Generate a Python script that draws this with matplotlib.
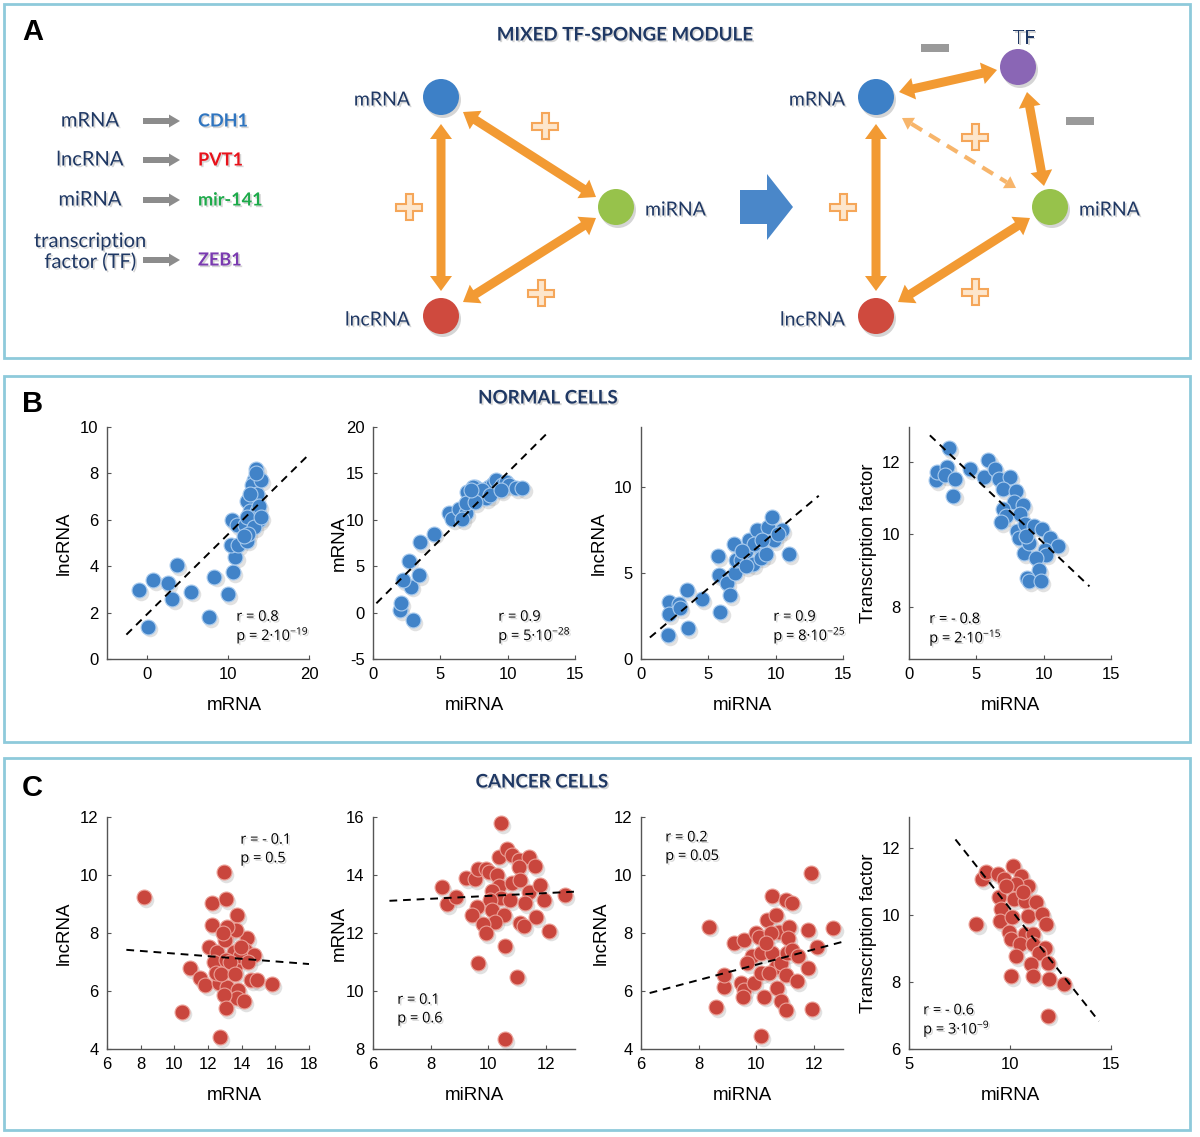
import numpy as np
import matplotlib
matplotlib.use("Agg")
import matplotlib.pyplot as plt
import matplotlib.patches as mpatches
import matplotlib.patheffects as pe

plt.rcParams['font.family'] = ['Liberation Sans', 'DejaVu Sans']
plt.rcParams['mathtext.default'] = 'regular'
plt.rcParams['axes.unicode_minus'] = False

# ---------------- data: normal cells (panel B) ----------------
b1_mrna = [-1.1, 0.75, 0.1, 2.5, 3.1, 3.7, 5.4, 7.6, 8.3, 10.0, 10.6, 10.9, 10.4, 11.2, 10.5, 11.1, 12.1, 13.5,
           13.2, 13.0, 13.2, 12.3, 12.75, 13.6, 13.8, 12.3, 13.2, 12.3, 13.6, 13.8, 12.75, 14.0, 13.4, 12.5, 14.0, 11.9]
b1_lnc = [2.98, 3.4, 1.4, 3.27, 2.58, 4.05, 2.9, 1.8, 3.55, 2.8, 3.74, 4.38, 4.9, 4.9, 6.0, 5.77, 5.77, 8.2,
          7.7, 7.5, 6.85, 6.8, 6.4, 6.4, 6.0, 6.1, 5.7, 5.1, 7.1, 6.6, 7.1, 7.7, 8.0, 5.4, 6.1, 5.3]

b2_mir = [1.97, 2.1, 2.96, 2.83, 2.2, 3.4, 2.7, 3.5, 4.5, 5.67, 5.9, 6.4, 6.9, 6.6, 7.0, 7.4, 7.6, 7.9, 8.4, 8.6,
          8.9, 9.1, 9.4, 9.6, 9.85, 10.1, 10.6, 11.1, 7.4, 8.1, 8.7, 9.5, 6.9, 7.6, 7.3]
b2_mrna = [0.29, 1.0, -0.8, 2.8, 3.5, 4.05, 5.6, 7.6, 8.5, 10.7, 10.1, 11.2, 10.7, 10.1, 13.0, 12.5, 13.5, 12.8,
           12.3, 13.5, 13.9, 14.3, 13.4, 13.7, 14.1, 13.7, 13.4, 13.4, 13.5, 13.2, 12.65, 13.2, 11.8, 11.9, 13.2]

b3_mir = [2.0, 2.1, 2.1, 2.8, 2.9, 3.5, 3.4, 4.5, 5.9, 5.7, 5.8, 6.4, 6.6, 6.9, 7.0, 7.05, 7.4, 7.8, 8.0, 8.3,
          8.6, 8.8, 8.9, 9.25, 9.4, 9.7, 9.9, 10.5, 11.0, 7.8, 8.4, 9.0, 7.5, 10.2]
b3_lnc = [1.4, 3.3, 2.6, 3.2, 2.95, 1.8, 4.0, 3.5, 2.75, 6.0, 4.9, 4.4, 3.7, 6.7, 5.0, 5.75, 5.75, 6.3, 6.9, 5.5,
          7.5, 6.5, 5.9, 6.1, 7.7, 8.25, 6.9, 7.5, 6.1, 5.4, 6.7, 6.9, 6.3, 7.3]

b4_mir = [2.0, 2.1, 2.8, 2.7, 3.0, 3.4, 3.3, 4.5, 5.9, 5.6, 6.35, 6.7, 7.5, 7.0, 7.95, 7.8, 8.45, 7.0, 7.2, 8.25,
          6.85, 8.0, 8.65, 9.3, 9.9, 8.15, 10.5, 11.1, 10.1, 10.2, 8.55, 9.4, 9.65, 8.75, 8.9, 9.8, 8.9, 8.7]
b4_tf = [11.49, 11.72, 11.86, 11.63, 12.39, 11.53, 11.07, 11.81, 12.05, 11.58, 11.81, 11.53, 11.58, 11.26, 11.2,
         10.9, 10.8, 10.7, 10.5, 10.56, 10.33, 10.1, 10.28, 10.23, 10.14, 9.9, 9.9, 9.67, 9.58, 9.44, 9.49, 9.35,
         9.02, 8.8, 8.7, 8.7, 9.77, 9.95]

# ---------------- data: cancer cells (panel C) ----------------
c1_mrna = [8.22, 12.94, 12.25, 13.04, 12.25, 13.74, 13.14, 14.33, 12.05, 12.55, 13.64, 13.0, 13.54, 14.17, 14.73,
           12.35, 13.58, 13.04, 13.93, 10.92, 11.52, 11.85, 12.65, 12.45, 14.57, 14.89, 15.78, 13.14, 13.77, 13.7,
           14.13, 12.94, 13.04, 10.46, 12.69, 13.94, 13.14, 13.3, 12.8, 13.6, 14.4, 12.9]
c1_lnc = [9.25, 10.1, 9.02, 9.16, 8.27, 8.62, 7.99, 7.82, 7.53, 7.36, 8.1, 7.76, 7.36, 7.42, 7.24, 7.0, 6.84, 7.07,
          7.19, 6.79, 6.44, 6.21, 6.27, 6.61, 6.38, 6.38, 6.23, 6.15, 6.04, 5.75, 5.66, 5.87, 5.41, 5.29, 4.41,
          7.53, 8.22, 7.0, 6.6, 6.6, 7.0, 8.0]

c2_mir = [10.44, 8.39, 8.55, 8.87, 9.21, 9.53, 9.65, 9.9, 10.01, 10.36, 10.64, 10.82, 11.07, 11.41, 11.6, 11.05,
          10.3, 10.36, 10.82, 11.1, 10.13, 11.39, 11.79, 11.91, 12.65, 10.45, 10.76, 10.07, 9.61, 9.44, 10.13,
          10.53, 10.24, 11.64, 11.1, 11.22, 9.81, 9.9, 12.11, 10.56, 9.65, 10.99, 10.56, 11.28]
c2_mrna = [15.79, 13.57, 13.0, 13.25, 13.88, 13.86, 14.22, 14.22, 14.1, 14.62, 14.88, 14.68, 14.51, 14.62, 14.3,
           14.28, 14.0, 13.62, 13.71, 13.82, 13.46, 13.42, 13.65, 13.13, 13.31, 13.19, 13.13, 13.13, 12.91, 12.62,
           12.79, 12.62, 12.39, 12.56, 12.33, 12.24, 12.31, 11.99, 12.08, 11.56, 10.96, 10.5, 8.34, 13.04]

c3_mir = [8.37, 9.21, 9.58, 8.6, 8.86, 8.89, 9.46, 9.58, 9.52, 9.92, 9.86, 9.69, 9.98, 10.1, 10.15, 10.15, 10.27,
          10.15, 10.38, 10.53, 10.67, 10.55, 10.67, 10.72, 10.84, 11.01, 10.78, 11.03, 11.24, 11.13, 11.1, 11.07,
          10.84, 11.01, 11.24, 11.41, 11.45, 11.79, 11.79, 11.89, 11.93, 12.1, 12.67, 10.5, 10.32, 10.44]
c3_lnc = [8.22, 7.64, 7.76, 5.44, 6.15, 6.56, 6.27, 6.04, 5.81, 6.27, 7.19, 6.96, 7.99, 7.87, 7.3, 6.61, 5.81,
          4.44, 8.45, 9.27, 8.62, 7.3, 6.84, 6.1, 6.96, 6.56, 8.04, 9.13, 9.02, 8.22, 7.82, 7.3, 5.64, 5.35, 7.42,
          6.33, 7.19, 8.1, 6.79, 10.07, 5.38, 7.53, 8.16, 7.99, 7.64, 6.61]

c4_mir = [8.34, 8.59, 8.83, 9.41, 9.7, 10.15, 10.56, 10.89, 10.31, 9.46, 9.57, 10.18, 10.72, 11.27, 9.49, 10.12,
          10.89, 11.6, 11.8, 9.93, 10.03, 10.72, 11.13, 10.48, 11.13, 11.74, 10.31, 11.43, 11.05, 11.88, 10.07,
          11.13, 11.92, 12.65, 11.9, 9.82, 10.64]
c4_tf = [9.73, 11.08, 11.28, 11.23, 11.08, 11.48, 11.18, 10.88, 10.93, 10.53, 10.18, 10.48, 10.43, 10.38, 9.83,
         9.93, 9.98, 10.03, 9.73, 9.48, 9.28, 9.43, 9.43, 9.13, 9.13, 9.03, 8.78, 8.88, 8.53, 8.58, 8.18, 8.18,
         8.08, 7.93, 7.0, 10.88, 10.68]

# dashed trend lines (end points)
b_fit_x = [(-2.6, 19.8), (0.25, 13.05), (0.66, 13.2), (1.55, 13.4)]
b_fit_y = [(1.05, 8.75), (1.0, 19.5), (1.25, 9.5), (12.74, 8.56)]
c_fit_x = [(7.15, 18.0), (6.57, 13.3), (6.3, 13.0), (7.3, 14.4)]
c_fit_y = [(7.42, 6.93), (13.11, 13.44), (5.93, 7.7), (12.26, 6.83)]

b_stats = [('0.8', '2', '-19'), ('0.9', '5', '-28'), ('0.9', '8', '-25'), ('- 0.8', '2', '-15')]
c_stats = [('- 0.1', '0.5', None), ('0.1', '0.6', None), ('0.2', '0.05', None), ('- 0.6', '3', '-9')]

xlabels = ['mRNA', 'miRNA', 'miRNA', 'miRNA']
ylabels = ['lncRNA', 'mRNA', 'lncRNA', 'Transcription factor']

b_xlim = [(-5, 20), (0, 15), (0, 15), (0, 15)]
b_ylim = [(0, 10), (-5, 20), (0, 13.5), (6.55, 12.97)]
b_xticks = [[0, 10, 20], [0, 5, 10, 15], [0, 5, 10, 15], [0, 5, 10, 15]]
b_yticks = [[0, 2, 4, 6, 8, 10], [-5, 0, 5, 10, 15, 20], [0, 5, 10], [8, 10, 12]]
c_xlim = [(6, 18), (6, 13), (6, 13), (5, 15)]
c_ylim = [(4, 12), (8, 16), (4, 12), (6, 12.93)]
c_xticks = [[6, 8, 10, 12, 14, 16, 18], [6, 8, 10, 12], [6, 8, 10, 12], [5, 10, 15]]
c_yticks = [[4, 6, 8, 10, 12], [8, 10, 12, 14, 16], [4, 6, 8, 10, 12], [6, 8, 10, 12]]

b_data = [(b1_mrna, b1_lnc), (b2_mir, b2_mrna), (b3_mir, b3_lnc), (b4_mir, b4_tf)]
c_data = [(c1_mrna, c1_lnc), (c2_mir, c2_mrna), (c3_mir, c3_lnc), (c4_mir, c4_tf)]

# annotation anchor (axes fraction) per subplot
b_txt = [(0.64, 0.18), (0.62, 0.18), (0.655, 0.18), (0.10, 0.17)]
c_txt = [(0.66, 0.90), (0.12, 0.21), (0.12, 0.91), (0.07, 0.165)]
# label placement (axes fraction)
xlab_x = [0.63, 0.5, 0.5, 0.5]
b_ylab_x = [-0.17, -0.124, -0.163, -0.158]
c_ylab_x = [-0.17, -0.124, -0.153, -0.158]

NAVY = '#1f3864'
ORANGE = '#f29a33'
W, H = 1200, 1137

fig = plt.figure(figsize=(12, 11.37), dpi=100)
bg = fig.add_axes([0, 0, 1, 1])
bg.set_xlim(0, W)
bg.set_ylim(H, 0)
bg.axis('off')

shadow = [pe.withSimplePatchShadow(offset=(1.2, -1.2), shadow_rgbFace='#888888', alpha=0.35)]

# panel frames
for y0, y1 in [(4, 358), (376, 742), (758, 1130)]:
    bg.add_patch(mpatches.Rectangle((4, y0), 1186, y1 - y0, fill=False, ec='#8ecadb', lw=2))

bg.text(22, 32, 'A', fontsize=21, fontweight='bold', va='center')
bg.text(22, 404, 'B', fontsize=21, fontweight='bold', va='center')
bg.text(22, 788, 'C', fontsize=21, fontweight='bold', va='center')

title_kw = dict(fontsize=13.5, fontweight='bold', color=NAVY, ha='center', va='center',
                family=['Lato', 'DejaVu Sans'], path_effects=shadow)
bg.text(625, 35, 'MIXED TF-SPONGE MODULE', **title_kw)
bg.text(548, 398, 'NORMAL CELLS', **title_kw)
bg.text(542, 782, 'CANCER CELLS', **title_kw)


def double_arrow(p0, p1, w=4.5, hw=11, hl=15, color=ORANGE):
    p0 = np.array(p0, float)
    p1 = np.array(p1, float)
    d = p1 - p0
    u = d / np.hypot(*d)
    n = np.array([-u[1], u[0]])
    pts = [p0, p0 + u * hl + n * hw, p0 + u * hl + n * w, p1 - u * hl + n * w, p1 - u * hl + n * hw, p1,
           p1 - u * hl - n * hw, p1 - u * hl - n * w, p0 + u * hl - n * w, p0 + u * hl - n * hw]
    bg.add_patch(mpatches.Polygon(pts, closed=True, fc=color, ec='none', zorder=2))


def single_arrow(p0, p1, w=3, hw=6.5, hl=11, color='#8c8c8c'):
    p0 = np.array(p0, float)
    p1 = np.array(p1, float)
    d = p1 - p0
    u = d / np.hypot(*d)
    n = np.array([-u[1], u[0]])
    pts = [p0 + n * w, p1 - u * hl + n * w, p1 - u * hl + n * hw, p1,
           p1 - u * hl - n * hw, p1 - u * hl - n * w, p0 - n * w]
    bg.add_patch(mpatches.Polygon(pts, closed=True, fc=color, ec='none', zorder=2))


def dashed_arrow(p0, p1, color='#f7b56b'):
    p0 = np.array(p0, float)
    p1 = np.array(p1, float)
    d = p1 - p0
    u = d / np.hypot(*d)
    n = np.array([-u[1], u[0]])
    hl, hw = 11, 7
    a, b = p0 + u * hl, p1 - u * hl
    bg.plot([a[0], b[0]], [a[1], b[1]], color=color, lw=3, ls=(0, (3, 2)), zorder=2)
    for tip, dirn in [(p0, -u), (p1, u)]:
        base = tip - dirn * hl
        bg.add_patch(mpatches.Polygon([tip, base + n * hw, base - n * hw], closed=True,
                                      fc=color, ec='none', zorder=2))


def plus(cx, cy, L=13, t=3.5):
    pts = [(cx - t, cy - L), (cx + t, cy - L), (cx + t, cy - t), (cx + L, cy - t), (cx + L, cy + t),
           (cx + t, cy + t), (cx + t, cy + L), (cx - t, cy + L), (cx - t, cy + t), (cx - L, cy + t),
           (cx - L, cy - t), (cx - t, cy - t)]
    bg.add_patch(mpatches.Polygon(pts, closed=True, fc='#fde6cc', ec='#f5a659', lw=1.5, zorder=3))


def minus(cx, cy):
    bg.add_patch(mpatches.Rectangle((cx - 14, cy - 4), 28, 8, fc='#9a9a9a', ec='none', zorder=3))


def node(cx, cy, color):
    bg.add_patch(mpatches.Circle((cx + 2, cy + 3), 18, fc='#777777', alpha=0.3, ec='none', zorder=3))
    bg.add_patch(mpatches.Circle((cx, cy), 18, fc=color, ec='none', zorder=4))


lab_kw = dict(color=NAVY, va='center', family=['Lato', 'DejaVu Sans'], path_effects=shadow)

# legend list on the left
list_names = ['mRNA', 'lncRNA', 'miRNA', 'transcription\nfactor (TF)']
list_genes = ['CDH1', 'PVT1', 'mir-141', 'ZEB1']
list_colors = ['#2f75c0', '#e8121b', '#1daa4a', '#7a3bb0']
list_y = [121, 160, 200, 252]
for name, gene, col, y in zip(list_names, list_genes, list_colors, list_y):
    bg.text(90, y, name, ha='center', linespacing=1.2, fontsize=14.5, **lab_kw)
    ay = y + 8 if '\n' in name else y
    single_arrow((143, ay), (180, ay))
    bg.text(198, ay, gene, fontsize=13, fontweight='bold', color=col, va='center',
            family=['Lato', 'DejaVu Sans'], path_effects=shadow)

BLUE_N, RED_N, GREEN_N, PURPLE_N = '#3d80c7', '#cf4a3e', '#97c24b', '#8a66b5'

# first motif
double_arrow((441, 124), (441, 291))
double_arrow((463, 112), (596, 197))
double_arrow((463, 302), (596, 218))
node(441, 97, BLUE_N)
node(441, 316, RED_N)
node(616, 207, GREEN_N)
bg.text(410, 100, 'mRNA', ha='right', fontsize=14, **lab_kw)
bg.text(410, 320, 'lncRNA', ha='right', fontsize=14, **lab_kw)
bg.text(645, 210, 'miRNA', ha='left', fontsize=14, **lab_kw)
plus(545, 126)
plus(409, 207)
plus(541, 293)

# big blue arrow
bg.add_patch(mpatches.Polygon([(740, 190), (767, 190), (767, 174), (793, 207), (767, 240), (767, 224), (740, 224)],
                              closed=True, fc='#4a87c9', ec='none'))

# second motif
double_arrow((876, 124), (876, 291))
double_arrow((899, 92), (997, 70))
double_arrow((1027, 92), (1044, 186))
double_arrow((898, 302), (1030, 218))
dashed_arrow((902, 118), (1016, 188))
node(876, 97, BLUE_N)
node(876, 316, RED_N)
node(1050, 207, GREEN_N)
node(1018, 67, PURPLE_N)
bg.text(845, 100, 'mRNA', ha='right', fontsize=14, **lab_kw)
bg.text(845, 320, 'lncRNA', ha='right', fontsize=14, **lab_kw)
bg.text(1079, 210, 'miRNA', ha='left', fontsize=14, **lab_kw)
bg.text(1024, 38, 'TF', ha='center', fontsize=14, **lab_kw)
plus(975, 137)
plus(843, 207)
plus(975, 292)
minus(935, 48)
minus(1080, 121)

# scatter panels
lefts = [107, 373, 641, 909]


def px_axes(left, top, w=202, h=232):
    return fig.add_axes([left / W, 1 - (top + h) / H, w / W, h / H])


def draw_row(top, data, fx, fy, xlims, ylims, xts, yts, stats, txt, ylab_x, fc, ec):
    for i in range(4):
        ax = px_axes(lefts[i], top)
        ax.patch.set_alpha(0)
        x, y = data[i]
        ax.scatter(x, y, s=125, color='#888888', alpha=0.25, linewidths=0,
                   transform=ax.transData + matplotlib.transforms.ScaledTranslation(1.5 / 72, -2 / 72,
                                                                                    fig.dpi_scale_trans),
                   zorder=2, clip_on=False)
        ax.scatter(x, y, s=115, color=fc, edgecolors=ec, linewidths=0.8, zorder=3, clip_on=False)
        ax.plot(fx[i], fy[i], color='black', ls=(0, (4, 3)), lw=1.4, zorder=4)
        ax.set_xlim(*xlims[i])
        ax.set_ylim(*ylims[i])
        ax.set_xticks(xts[i])
        ax.set_yticks(yts[i])
        for s in ['top', 'right']:
            ax.spines[s].set_visible(False)
        for s in ['left', 'bottom']:
            ax.spines[s].set_color('#555555')
            ax.spines[s].set_linewidth(1.0)
        ax.tick_params(direction='in', length=3, labelsize=12, color='#555555', pad=6)
        ax.set_xlabel(xlabels[i], fontsize=13.5)
        ax.set_ylabel(ylabels[i], fontsize=13.5)
        ax.xaxis.set_label_coords(xlab_x[i], -0.165)
        ax.yaxis.set_label_coords(ylab_x[i], 0.5)
        r, pv, ex = stats[i]
        ptxt = 'p = ' + pv + ('·10$^{' + ex + '}$' if ex else '')
        tx, ty = txt[i]
        tkw = dict(transform=ax.transAxes, fontsize=10.5, family=['Open Sans', 'DejaVu Sans'],
                   path_effects=shadow, zorder=5)
        ax.text(tx, ty, 'r = ' + r, va='center', **tkw)
        ax.text(tx, ty - 0.08, ptxt, va='center', **tkw)


draw_row(427, b_data, b_fit_x, b_fit_y, b_xlim, b_ylim, b_xticks, b_yticks, b_stats, b_txt, b_ylab_x,
         '#4183c8', '#a9cbee')
draw_row(817, c_data, c_fit_x, c_fit_y, c_xlim, c_ylim, c_xticks, c_yticks, c_stats, c_txt, c_ylab_x,
         '#c9463d', '#eba097')

fig.savefig('out.png', dpi=100)
